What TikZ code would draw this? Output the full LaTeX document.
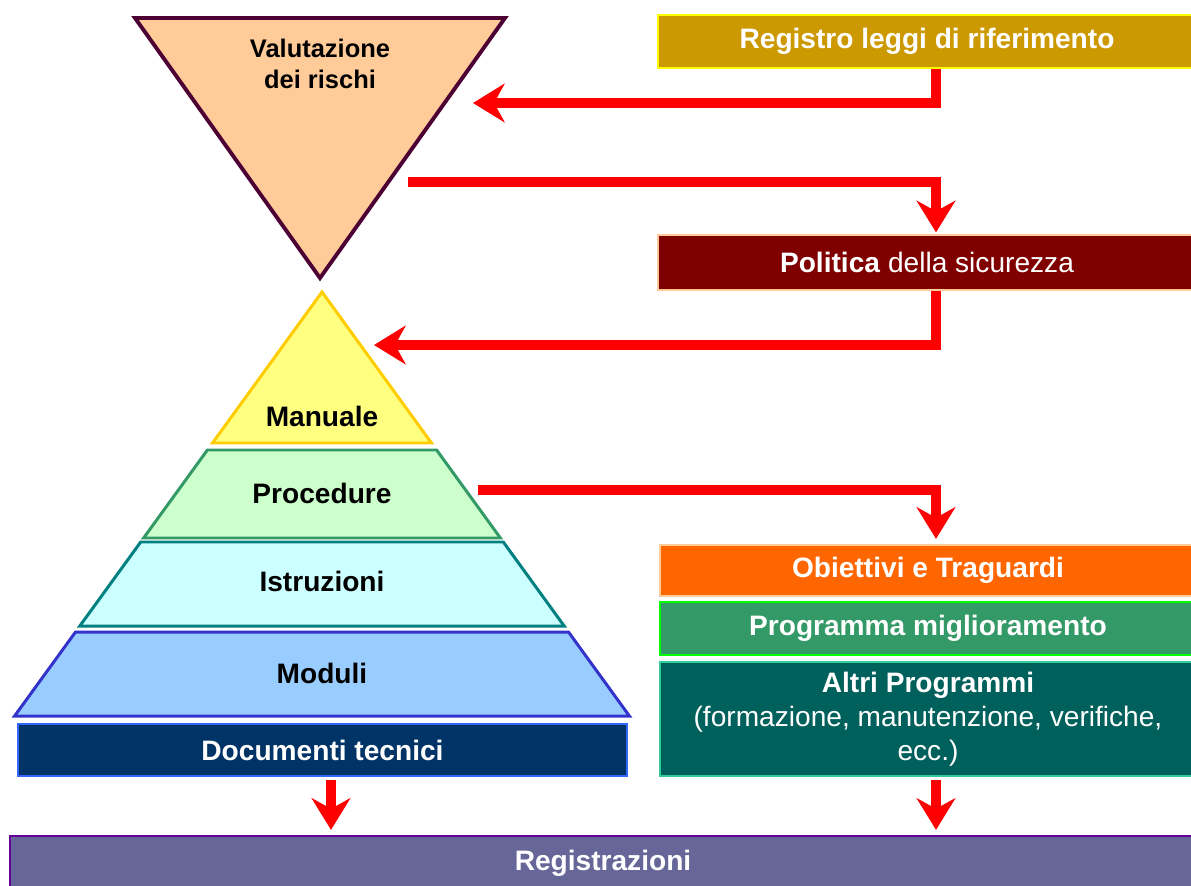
\documentclass[tikz,border=0pt]{standalone}
\usepackage{fontspec}
\setmainfont{Liberation Sans}
\usetikzlibrary{
    arrows.meta,
    positioning,
    calc
}
\definecolor{rossoFreccia}{RGB}{255, 0, 0}
\definecolor{bordoRischi}{RGB}{77, 0, 51}
\definecolor{fondoRischi}{RGB}{255, 204, 153}
\definecolor{fondoRegistro}{RGB}{204, 153, 0}
\definecolor{bordoRegistro}{RGB}{255, 255, 0}
\definecolor{fondoPolitica}{RGB}{128, 0, 0}
\definecolor{bordoPolitica}{RGB}{255, 204, 153}
\definecolor{fondoManuale}{RGB}{255, 255, 128}
\definecolor{bordoManuale}{RGB}{255, 204, 0}
\definecolor{fondoProcedure}{RGB}{204, 255, 204}
\definecolor{bordoProcedure}{RGB}{51, 153, 102}
\definecolor{fondoIstruzioni}{RGB}{204, 255, 255}
\definecolor{bordoIstruzioni}{RGB}{0, 128, 128}
\definecolor{fondoModuli}{RGB}{153, 204, 255}
\definecolor{bordoModuli}{RGB}{51, 51, 204}
\definecolor{fondoDocumenti}{RGB}{0, 51, 102}
\definecolor{bordoDocumenti}{RGB}{51, 102, 255}
\definecolor{fondoObiettivi}{RGB}{255, 102, 0}
\definecolor{bordoObiettivi}{RGB}{255, 204, 153}
\definecolor{fondoProgramma}{RGB}{51, 153, 102}
\definecolor{bordoProgramma}{RGB}{0, 255, 0}
\definecolor{fondoAltri}{RGB}{0, 96, 92}
\definecolor{bordoAltri}{RGB}{51, 204, 153}
\definecolor{fondoRegistrazioni}{RGB}{102, 102, 153}
\definecolor{bordoRegistrazioni}{RGB}{102, 0, 153}
\tikzset{
    barra/.style={
        rectangle, line width=1pt,
        text=white, align=center, inner sep=2pt,
        font=\fontsize{16}{19}\selectfont\bfseries
    },
    barraNormale/.style={
        barra, font=\fontsize{16}{19.5}\selectfont
    },
    strato/.style={
        line width=1.7pt, line join=miter
    },
    testoStrato/.style={
        font=\fontsize{16}{19}\selectfont\bfseries,
        text=black, align=center
    },
    freccia/.style={
        -{Stealth[length=18pt,width=22pt,inset=6pt]},
        line width=5.5pt, color=rossoFreccia
    },
}

\begin{document}
\begin{tikzpicture}[x=0.02cm, y=-0.02cm]

    % ----------------------------------------------------------
    % coordinate in pixel, origine in alto a sinistra
    % ----------------------------------------------------------
    \useasboundingbox (0,0) rectangle (1191,886);

    % Triangolo rovesciato
    \draw[strato, line width=2.2pt, draw=bordoRischi, fill=fondoRischi]
        (135,18) -- (505,18) -- (320,278) -- cycle;
    \node[testoStrato, font=\fontsize{14.5}{18}\selectfont\bfseries]
        at (320,64) (rischi) {Valutazione\\dei rischi};

    % Piramide
    \draw[strato, draw=bordoManuale, fill=fondoManuale]
        (322,292) -- (431.5,443) -- (212.5,443) -- cycle;
    \draw[strato, draw=bordoProcedure, fill=fondoProcedure]
        (207.4,450) -- (436.6,450) -- (500.4,538) -- (143.6,538) -- cycle;
    \draw[strato, draw=bordoIstruzioni, fill=fondoIstruzioni]
        (140.7,542) -- (503.3,542) -- (564.2,626) -- (79.8,626) -- cycle;
    \draw[strato, draw=bordoModuli, fill=fondoModuli]
        (75.5,632) -- (568.5,632) -- (629.4,716) -- (14.6,716) -- cycle;

    \node[testoStrato] at (322,416) (manuale)    {Manuale};
    \node[testoStrato] at (322,493) (procedure)  {Procedure};
    \node[testoStrato] at (322,581) (istruzioni) {Istruzioni};
    \node[testoStrato] at (322,673) (moduli)     {Moduli};

    % ----------------------------------------------------------
    % BARRE
    % ----------------------------------------------------------
    \node[barra, draw=bordoDocumenti, fill=fondoDocumenti,
          minimum width=12.18cm, minimum height=1.04cm]
        at (322.5,750) (documenti) {Documenti tecnici};

    \node[barra, draw=bordoRegistro, fill=fondoRegistro,
          minimum width=10.76cm, minimum height=1.06cm]
        at (927,41.5) (registro) {Registro leggi di riferimento};
    \node[barraNormale, draw=bordoPolitica, fill=fondoPolitica,
          minimum width=10.76cm, minimum height=1.1cm]
        at (927,262.5) (politica) {\textbf{Politica} della sicurezza};

    \node[barra, draw=bordoObiettivi, fill=fondoObiettivi,
          minimum width=10.72cm, minimum height=1.02cm]
        at (928,570.5) (obiettivi) {Obiettivi e Traguardi};
    \node[barra, draw=bordoProgramma, fill=fondoProgramma,
          minimum width=10.72cm, minimum height=1.06cm]
        at (928,628.5) (programma) {Programma miglioramento};
    \node[barraNormale, draw=bordoAltri, fill=fondoAltri,
          minimum width=10.72cm, minimum height=2.28cm]
        at (928,719) (altri)
        {\textbf{Altri Programmi}\\(formazione, manutenzione, verifiche,\\ecc.)};

    \node[barra, draw=bordoRegistrazioni, fill=fondoRegistrazioni,
          minimum width=23.72cm, minimum height=1.08cm]
        at (603,863) (registrazioni) {Registrazioni};

    % ----------------------------------------------------------
    % FRECCE
    % ----------------------------------------------------------
    \coordinate (colonnaDx)    at (936,0);
    \coordinate (colonnaSx)    at (331,0);
    \coordinate (rischiIn)     at (473,103);
    \coordinate (rischiOut)    at (408,182);
    \coordinate (manualeIn)    at (374,345);
    \coordinate (procedureOut) at (478,490);

    \draw[freccia] (registro.south -| colonnaDx) |- (rischiIn);
    \draw[freccia] (rischiOut) -| ([yshift=1pt]politica.north -| colonnaDx);
    \draw[freccia] (politica.south -| colonnaDx) |- (manualeIn);
    \draw[freccia] (procedureOut) -| ([yshift=3pt]obiettivi.north -| colonnaDx);

    \draw[freccia, shorten <=2pt, shorten >=3pt]
        (documenti.south -| colonnaSx) -- (registrazioni.north -| colonnaSx);
    \draw[freccia, shorten <=2pt, shorten >=3pt]
        (altri.south -| colonnaDx) -- (registrazioni.north -| colonnaDx);

\end{tikzpicture}
\end{document}
